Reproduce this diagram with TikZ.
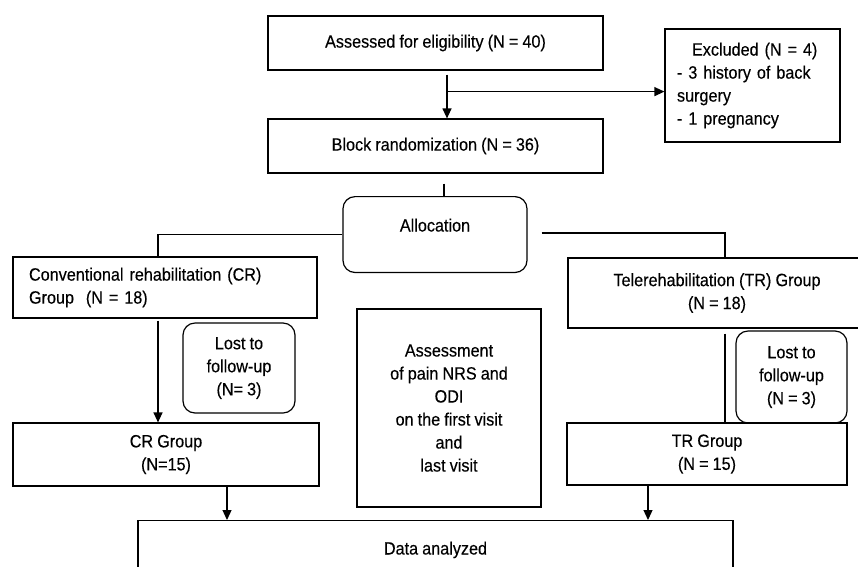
\documentclass[tikz,border=0pt]{standalone}
\usepackage{fontspec}
\setmainfont[FakeStretch=0.91,WordSpace=0.91,FakeBold=0.3]{Liberation Sans}
\usetikzlibrary{arrows.meta,calc}
\newcommand{\fsz}{\fontsize{17.8}{23}\selectfont}
\tikzset{
  box/.style={draw, line width=1.2pt, inner sep=0pt, font=\fsz, align=center},
  rbox/.style={box, rounded corners=12pt},
  conn/.style={line width=1.2pt},
  arr/.style={conn, -{Triangle[length=10pt,width=9pt]}}
}
\begin{document}
\begin{tikzpicture}[x=1pt,y=-1pt]
\useasboundingbox (0,0) rectangle (858,566);
\clip (0,0) rectangle (858,566);
% boxes
\node[box, minimum width=335pt, minimum height=54pt] (assess) at (435.5,43) {Assessed for eligibility (N = 40)};
\node[box, minimum width=335pt, minimum height=54pt] (block) at (435.5,146) {Block randomization (N = 36)};
\node[box, minimum width=175pt, minimum height=113pt, text width=151pt, inner xsep=12pt, align=left] (excl) at (752.5,85.5)
  {\hspace*{15pt}Excluded (N = 4)\\- 3 history of back\\surgery\\- 1 pregnancy};
\node[rbox, anchor=north, minimum width=184pt, inner ysep=22pt, text depth=19pt] (alloc) at (435,196) {Allocation};
\node[box, minimum width=304pt, minimum height=61pt, text width=272pt, inner xsep=16pt, align=left] (cr) at (165,287.5)
  {Conventional rehabilitation (CR)\\Group\ \ (N = 18)};
\node[box, minimum width=298pt, minimum height=70pt] (tr) at (717,293) {Telerehabilitation (TR) Group\\(N = 18)};
\node[rbox, minimum width=112pt, minimum height=90pt] (lostL) at (239,368) {Lost to\\follow-up\\(N= 3)};
\node[rbox, minimum width=111pt, minimum height=92pt] (lostR) at (791.5,377) {Lost to\\follow-up\\(N = 3)};
\node[box, minimum width=184pt, minimum height=198pt] (assm) at (449,408)
  {Assessment\\of pain NRS and\\ODI\\on the first visit\\and\\last visit};
\node[box, minimum width=306pt, minimum height=63pt] (crg) at (166,454.5) {CR Group\\(N=15)};
\node[box, minimum width=280pt, minimum height=62pt] (trg) at (707,454) {TR Group\\(N = 15)};
\node[box, anchor=north, minimum width=595pt, inner ysep=21pt, text depth=50pt] (data) at (435.5,520) {Data analyzed};
% connectors
\draw[arr] ($(assess.south)+(11.5,4)$) -- ($(block.north)+(11.5,0)$);
\coordinate (br) at ($(assess.south)+(11.5,21)$);
\draw[arr] (br) -- (br -| excl.west);
\coordinate (b1) at ($(block.south)+(8.5,10)$);
\draw[conn] (b1) -- (b1 |- alloc.north);
\draw[conn] (alloc.west) -| ($(cr.north)+(-7,0)$);
\draw[conn] ($(alloc.east)+(14,-1.5)$) -| ($(tr.north)+(8,0)$);
\draw[arr] ($(cr.south)+(-7,2)$) -- ($(crg.north)+(-8,0)$);
\coordinate (t1) at ($(tr.south)+(8,5)$);
\draw[conn] (t1) -- (t1 |- trg.north);
\coordinate (c1) at ($(crg.south)+(61,0)$);
\draw[arr] (c1) -- (c1 |- data.north);
\coordinate (c2) at ($(trg.south)+(-59,0)$);
\draw[arr] (c2) -- (c2 |- data.north);
\end{tikzpicture}
\end{document}
